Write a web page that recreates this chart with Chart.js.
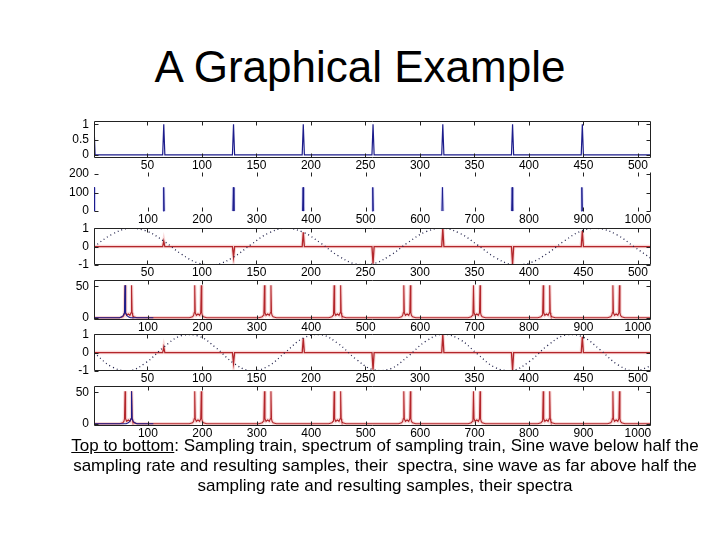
<!DOCTYPE html>
<html>
<head>
<meta charset="utf-8">
<script src="https://cdn.jsdelivr.net/npm/chart.js@4"></script>
<style>
  body { margin: 0; background: #fff; }
  #page { position: relative; width: 720px; height: 540px; overflow: hidden; background: #fff;
          font-family: "Liberation Sans", Arial, sans-serif; }
  #title { position: absolute; left: 0; top: 42px; width: 720px; text-align: center;
           font-size: 44px; line-height: 50px; color: #000; }
  #caption { position: absolute; left: 40px; top: 436px; width: 690px; text-align: center;
             font-size: 17px; line-height: 20px; color: #000; }
  #caption u { text-decoration: underline; }
  canvas { position: absolute; left: 0; }
</style>
</head>
<body>
<div id="page">
  <div id="title">A Graphical Example</div>
  <canvas id="p1" width="720" height="63" style="top:109px"></canvas>
  <canvas id="p2" width="720" height="66" style="top:160px"></canvas>
  <canvas id="p3" width="720" height="63" style="top:216px"></canvas>
  <canvas id="p4" width="720" height="66" style="top:268px"></canvas>
  <canvas id="p5" width="720" height="63" style="top:322px"></canvas>
  <canvas id="p6" width="720" height="66" style="top:374px"></canvas>
  <div id="caption"><u>Top to bottom</u>: Sampling train, spectrum of sampling train, Sine wave below half the<br>sampling rate and resulting samples, their&nbsp; spectra, sine wave as far above half the<br>sampling rate and resulting samples, their spectra</div>
</div>
<script>
// tick labels
var xTicksTime = [50, 100, 150, 200, 250, 300, 350, 400, 450, 500];
var xTicksFreq = [100, 200, 300, 400, 500, 600, 700, 800, 900, 1000];
var trainYTicks = [0, 0.5, 1];
var trainSpecYTicks = [0, 100, 200];
var sineYTicks = [-1, 0, 1];
var specYTicks = [0, 50];

// sampling train (every 64th sample) and its spectrum
var sampleX = [1, 65, 129, 193, 257, 321, 385, 449];
var trainY = [1, 1, 1, 1, 1, 1, 1, 1];
var trainSpecX = [1, 129, 257, 385, 513, 641, 769, 897];
var trainSpecY = [128, 128, 128, 128, 128, 128, 128, 128];

// sampled values (same for both sine waves)
var sampledY = [0, 0.30, -0.57, 0.78, -0.93, 1.00, -0.97, 0.86];

var sineX = [1, 17, 33, 49, 65, 81, 97, 113, 129, 145, 161, 177, 193, 209, 225, 241, 257,
             273, 289, 305, 321, 337, 353, 369, 385, 401, 417, 433, 449, 465, 481, 497, 512];
var sineBelowY = [0, 0.65, 0.99, 0.85, 0.30, -0.40, -0.90, -0.97, -0.57, 0.11, 0.73, 1.00, 0.78,
                  0.19, -0.50, -0.94, -0.93, -0.47, 0.22, 0.80, 1.00, 0.71, 0.08, -0.59, -0.98,
                  -0.88, -0.37, 0.33, 0.87, 0.98, 0.63, -0.03, -0.64];
var sineAboveY = [0, -0.76, -0.99, -0.53, 0.30, 0.92, 0.90, 0.26, -0.57, -0.99, -0.73, 0.04, 0.79,
                  0.98, 0.49, -0.34, -0.93, -0.88, -0.21, 0.60, 1.00, 0.70, -0.09, -0.81, -0.97,
                  -0.46, 0.38, 0.95, 0.86, 0.17, -0.64, -1.00, -0.71];

// spectra of the sampled signals: a pair of peaks around each centre
var pairCenters = [64, 192, 320, 448, 576, 704, 832, 960];
var lobeOffsets = [-16, -10, -8, -7, -6, -5, -3, 0, 3, 5, 6, 7, 8, 10, 16];
var lobeHeights = [0, 1.5, 4, 8, 52, 8, 4, 6, 4, 8, 52, 8, 4, 1.5, 0];
// spectra of the original sines (only the low end shows)
var sineSpecBelowX = [1, 48, 52, 55, 57, 58, 59, 61, 64, 68, 110];
var sineSpecAboveX = [1, 60, 64, 67, 69, 70, 71, 73, 76, 80, 110];
var sineSpecY = [0, 0, 1.5, 4, 8, 52, 8, 4, 1.5, 0, 0];

var NAVY = '#1c1c8c';
var RED = '#b3262b';
var PINK = 'rgba(235,130,130,0.30)';
var LIGHTBLUE = 'rgba(140,140,235,0.30)';

function spikes(xs, ys, x0, x1) {
  var pts = [{x: x0, y: 0}];
  xs.forEach(function (x, i) {
    if (x - 1 > x0) pts.push({x: x - 1, y: 0});
    pts.push({x: x, y: ys[i]});
    pts.push({x: x + 1, y: 0});
  });
  pts.push({x: x1, y: 0});
  return pts;
}

// spikes with no baseline between them
function bareSpikes(xs, ys) {
  var pts = [];
  xs.forEach(function (x, i) {
    pts.push({x: x - 1, y: 0}, {x: x, y: ys[i]}, {x: x + 1, y: 0}, {x: x + 2, y: null});
  });
  return pts;
}

function pairs(x0, x1) {
  var pts = [{x: x0, y: 0}];
  pairCenters.forEach(function (c) {
    lobeOffsets.forEach(function (o, i) {
      pts.push({x: c + o, y: lobeHeights[i]});
    });
  });
  pts.push({x: x1, y: 0});
  return pts;
}

function xy(xs, ys) {
  return xs.map(function (x, i) { return {x: x, y: ys[i]}; });
}

// matlab-ish box and inward ticks
var framePlugin = {
  id: 'frame',
  afterDraw: function (chart, args, opts) {
    var ctx = chart.ctx, a = chart.chartArea, sx = chart.scales.x, sy = chart.scales.y;
    var sides = opts.sides || 'trbl';
    ctx.save();
    ctx.strokeStyle = opts.color || '#222';
    ctx.lineWidth = 1;
    ctx.beginPath();
    var L = Math.round(a.left) + 0.5, R = Math.round(a.right) - 0.5;
    var T = Math.round(a.top) + 0.5, B = Math.round(a.bottom) - 0.5;
    if (sides.indexOf('t') >= 0) { ctx.moveTo(L, T); ctx.lineTo(R, T); }
    if (sides.indexOf('r') >= 0) { ctx.moveTo(R, T); ctx.lineTo(R, B); }
    if (sides.indexOf('b') >= 0) { ctx.moveTo(L, B); ctx.lineTo(R, B); }
    if (sides.indexOf('l') >= 0) { ctx.moveTo(L, T); ctx.lineTo(L, B); }
    sx.ticks.forEach(function (t) {
      var p = Math.round(sx.getPixelForValue(t.value)) + 0.5;
      ctx.moveTo(p, B); ctx.lineTo(p, B - 4);
      ctx.moveTo(p, T); ctx.lineTo(p, T + 4);
    });
    sy.ticks.forEach(function (t) {
      var p = Math.round(sy.getPixelForValue(t.value)) + 0.5;
      ctx.moveTo(L, p); ctx.lineTo(L + 4, p);
      ctx.moveTo(R, p); ctx.lineTo(R - 4, p);
    });
    ctx.stroke();
    ctx.restore();
  }
};

function makePanel(id, datasets, xMax, xTicks, yMin, yMax, yTicks, sides) {
  var font = {family: "'Liberation Sans', Arial, sans-serif", size: 12};
  return new Chart(document.getElementById(id), {
    type: 'line',
    data: {datasets: datasets},
    options: {
      responsive: false,
      animation: false,
      events: [],
      spanGaps: false,
      layout: {padding: {left: 0, right: 69, top: 10, bottom: 0}},
      plugins: {legend: {display: false}, tooltip: {enabled: false}, frame: {sides: sides}},
      elements: {point: {radius: 0}, line: {borderWidth: 1, tension: 0}},
      scales: {
        x: {
          type: 'linear', min: 1, max: xMax,
          grid: {display: false, drawTicks: false}, border: {display: false},
          ticks: {padding: 0, font: font, color: '#000', maxRotation: 0, autoSkip: false,
                  callback: function (v) { return String(v); }},
          afterBuildTicks: function (s) { s.ticks = xTicks.map(function (v) { return {value: v}; }); },
          afterFit: function (s) { s.height = 14; }
        },
        y: {
          type: 'linear', min: yMin, max: yMax,
          grid: {display: false, drawTicks: false}, border: {display: false},
          ticks: {padding: 5, font: font, color: '#000', autoSkip: false,
                  callback: function (v) { return String(v); }},
          afterBuildTicks: function (s) { s.ticks = yTicks.map(function (v) { return {value: v}; }); },
          afterFit: function (s) { s.width = 94; }
        }
      }
    },
    plugins: [framePlugin]
  });
}

// 1: sampling train
makePanel('p1', [
  {data: spikes(sampleX, trainY, 1, 512), borderColor: NAVY, borderWidth: 1.2}
], 512, xTicksTime, -0.1, 1.1, trainYTicks, 'trbl');

// 2: spectrum of sampling train
makePanel('p2', [
  {data: bareSpikes(trainSpecX, trainSpecY), borderColor: NAVY, borderWidth: 1, order: 1},
  {data: bareSpikes(trainSpecX, trainSpecY), borderColor: LIGHTBLUE, borderWidth: 3, order: 2}
], 1024, xTicksFreq, -5, 210, trainSpecYTicks, 'r');

// 3: sine below half the sampling rate, and samples
makePanel('p3', [
  {data: xy(sineX, sineBelowY), borderColor: '#20204a', borderWidth: 1.3, borderDash: [1, 3], tension: 0.4, order: 1},
  {data: spikes(sampleX, sampledY, 1, 512), borderColor: RED, borderWidth: 1.3, order: 2},
  {data: spikes(sampleX, sampledY, 1, 512), borderColor: PINK, borderWidth: 3.5, order: 3}
], 512, xTicksTime, -1, 1, sineYTicks, 'trbl');

// 4: spectra
makePanel('p4', [
  {data: xy(sineSpecBelowX, sineSpecY), borderColor: NAVY, borderWidth: 1.1, order: 1},
  {data: pairs(1, 1024), borderColor: RED, borderWidth: 1.1, order: 2},
  {data: pairs(1, 1024), borderColor: PINK, borderWidth: 3.5, order: 3}
], 1024, xTicksFreq, -3.5, 60, specYTicks, 'trbl');

// 5: sine as far above half the sampling rate, and samples
makePanel('p5', [
  {data: xy(sineX, sineAboveY), borderColor: '#20204a', borderWidth: 1.3, borderDash: [1, 3], tension: 0.4, order: 1},
  {data: spikes(sampleX, sampledY, 1, 512), borderColor: RED, borderWidth: 1.3, order: 2},
  {data: spikes(sampleX, sampledY, 1, 512), borderColor: PINK, borderWidth: 3.5, order: 3}
], 512, xTicksTime, -1, 1, sineYTicks, 'trbl');

// 6: spectra
makePanel('p6', [
  {data: xy(sineSpecAboveX, sineSpecY), borderColor: NAVY, borderWidth: 1.1, order: 1},
  {data: pairs(1, 1024), borderColor: RED, borderWidth: 1.1, order: 2},
  {data: pairs(1, 1024), borderColor: PINK, borderWidth: 3.5, order: 3}
], 1024, xTicksFreq, -3.5, 60, specYTicks, 'trbl');
</script>
</body>
</html>
